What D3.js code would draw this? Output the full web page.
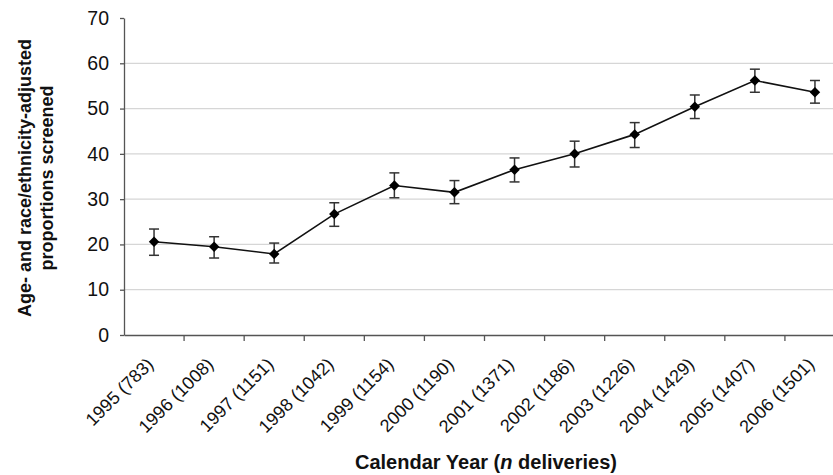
<!DOCTYPE html>
<html>
<head>
<meta charset="utf-8">
<script src="https://cdn.jsdelivr.net/npm/d3@7"></script>
<style>
  body { margin: 0; background: #fff; overflow: hidden; }
  text { font-family: Arial, "Liberation Sans", sans-serif; fill: #111; }
  .grid line { stroke: #d6d6d6; stroke-width: 1.2; }
  .axis path, .axis line { stroke: #555; stroke-width: 1.3; }
</style>
</head>
<body>
<svg id="chart" width="833" height="475"></svg>
<script>
const years = ["1995", "1996", "1997", "1998", "1999", "2000", "2001", "2002", "2003", "2004", "2005", "2006"];
const deliveries = [783, 1008, 1151, 1042, 1154, 1190, 1371, 1186, 1226, 1429, 1407, 1501];
const proportion = [20.6, 19.5, 17.9, 26.7, 33.0, 31.5, 36.5, 40.0, 44.3, 50.4, 56.2, 53.6];
const lower = [17.6, 17.0, 15.9, 24.0, 30.3, 29.0, 33.8, 37.1, 41.4, 47.8, 53.6, 51.2];
const upper = [23.4, 21.7, 20.3, 29.2, 35.8, 34.1, 39.1, 42.8, 46.9, 53.0, 58.7, 56.2];
const yTicks = [0, 10, 20, 30, 40, 50, 60, 70];

const svg = d3.select("#chart");
const marginLeft = 124, plotTop = 18, plotBottom = 335;
const plotRight = 845; // plot runs past the picture edge like the source

const labels = years.map((y, i) => `${y} (${deliveries[i]})`);
const data = labels.map((l, i) => ({ label: l, v: proportion[i], lo: lower[i], hi: upper[i] }));

const x = d3.scaleBand().domain(labels).range([marginLeft, plotRight]);
const y = d3.scaleLinear().domain([0, 70]).range([plotBottom, plotTop]);

//Gridlines
svg.append("g")
  .attr("class", "grid")
  .selectAll("line")
  .data(yTicks.slice(1, -1))
  .join("line")
  .attr("x1", marginLeft).attr("x2", plotRight)
  .attr("y1", d => y(d)).attr("y2", d => y(d));

//Y axis
const yAxis = svg.append("g")
  .attr("class", "axis")
  .attr("transform", `translate(${marginLeft},0)`)
  .call(d3.axisLeft(y).tickValues(yTicks).tickSize(4).tickSizeOuter(0).tickPadding(11));
yAxis.selectAll("text").style("font-size", "19.5px").attr("fill", "#222");

//X axis
const xAxis = svg.append("g")
  .attr("class", "axis")
  .attr("transform", `translate(0,${plotBottom})`)
  .call(d3.axisBottom(x).tickSize(0).tickSizeOuter(0).tickFormat(""));

// ticks sit on band boundaries
xAxis.selectAll(".bnd")
  .data(labels.slice(1))
  .join("line")
  .attr("class", "bnd")
  .attr("x1", d => x(d)).attr("x2", d => x(d))
  .attr("y1", 0).attr("y2", 6)
  .attr("stroke", "#aaa");

xAxis.selectAll(".lbl")
  .data(labels)
  .join("text")
  .attr("class", "lbl")
  .attr("transform", d => `translate(${x(d) + x.bandwidth() / 2 - 4},${26}) rotate(-45)`)
  .attr("text-anchor", "end")
  .attr("dy", "0.35em")
  .style("font-size", "18px")
  .attr("fill", "#222")
  .text(d => d);

//Error bars
const cx = d => x(d.label) + x.bandwidth() / 2;
const err = svg.append("g").attr("stroke", "#333").attr("stroke-width", 1.5);
err.selectAll(".stem").data(data).join("line")
  .attr("x1", cx).attr("x2", cx)
  .attr("y1", d => y(d.lo)).attr("y2", d => y(d.hi));
err.selectAll(".capHi").data(data).join("line")
  .attr("x1", d => cx(d) - 5).attr("x2", d => cx(d) + 5)
  .attr("y1", d => y(d.hi)).attr("y2", d => y(d.hi));
err.selectAll(".capLo").data(data).join("line")
  .attr("x1", d => cx(d) - 5).attr("x2", d => cx(d) + 5)
  .attr("y1", d => y(d.lo)).attr("y2", d => y(d.lo));

//Line
const line = d3.line().x(cx).y(d => y(d.v));
svg.append("path")
  .datum(data)
  .attr("fill", "none")
  .attr("stroke", "#111")
  .attr("stroke-width", 1.6)
  .attr("d", line);

//Markers
svg.append("g")
  .selectAll("path")
  .data(data)
  .join("path")
  .attr("transform", d => `translate(${cx(d)},${y(d.v)})`)
  .attr("d", d3.symbol(d3.symbolDiamond2, 70))
  .attr("fill", "#000");

//Axis titles
const yTitle = svg.append("text")
  .attr("transform", "translate(0,178) rotate(-90)")
  .attr("text-anchor", "middle")
  .style("font-size", "18px")
  .style("font-weight", "bold");
yTitle.append("tspan").attr("x", 0).attr("y", 31).text("Age- and race/ethnicity-adjusted");
yTitle.append("tspan").attr("x", 0).attr("y", 53).text("proportions screened");

const xTitle = svg.append("text")
  .attr("x", 486)
  .attr("y", 469)
  .attr("text-anchor", "middle")
  .style("font-size", "20px")
  .style("font-weight", "bold");
xTitle.append("tspan").text("Calendar Year (");
xTitle.append("tspan").style("font-style", "italic").text("n");
xTitle.append("tspan").text(" deliveries)");
</script>
</body>
</html>
